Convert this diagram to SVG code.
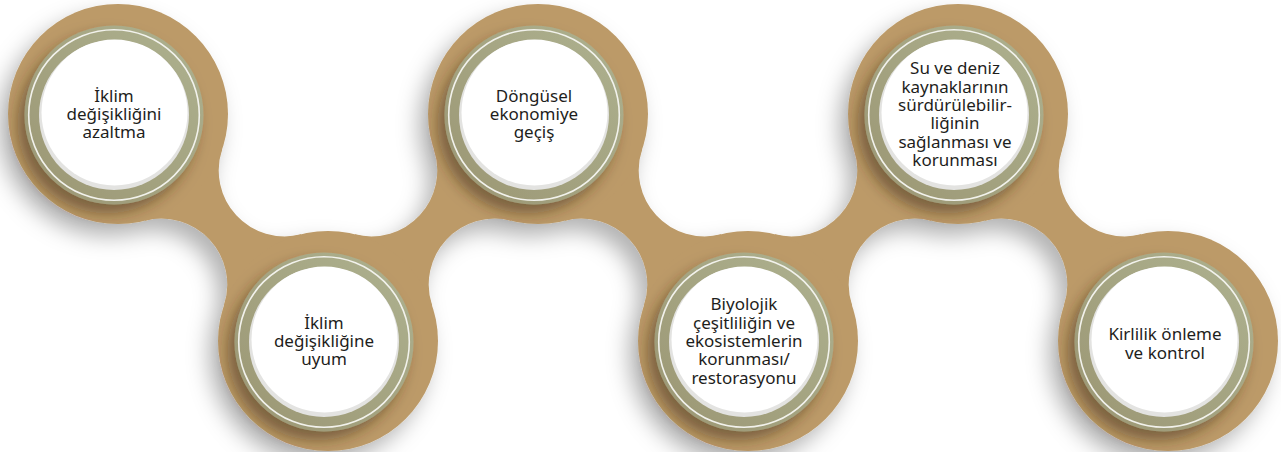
<svg xmlns="http://www.w3.org/2000/svg" width="1281" height="452" viewBox="0 0 1281 452">
<defs>
<style>
.tan{fill:#bc9a68}
.olive{fill:url(#og)}
.ring{fill:none;stroke:#f2f2ec;stroke-width:1.6}
.rim{fill:#e3e3e1}
.face{fill:#ffffff}
.lbl{font-family:"Noto Sans","Open Sans",sans-serif;font-size:17px;fill:#1e1e1c;text-anchor:middle}
</style>
<linearGradient id="og" x1="1" y1="0" x2="0" y2="1">
<stop offset="0" stop-color="#aeb290"/>
<stop offset="1" stop-color="#9b9673"/>
</linearGradient>
<filter id="bandShadow" filterUnits="userSpaceOnUse" x="-60" y="-60" width="1420" height="580">
<feDropShadow dx="-9" dy="12" stdDeviation="11" flood-color="#000" flood-opacity="0.3"/>
</filter>
<filter id="discShadow" x="-40%" y="-40%" width="180%" height="180%">
<feDropShadow dx="-7" dy="9" stdDeviation="7" flood-color="#3b2a12" flood-opacity="0.5"/>
</filter>
<path id="neckA" d="M118 114 L222.20 149.25 A66 66 0 0 0 300.95 234.37 L328 341 L223.80 305.75 A66 66 0 0 0 145.05 220.63 Z"/>
<path id="neckB" d="M538 114 L433.80 149.25 A66 66 0 0 1 355.05 234.37 L328 341 L432.20 305.75 A66 66 0 0 1 510.95 220.63 Z"/>
</defs>
<rect width="1281" height="452" fill="#ffffff"/>
<g id="band" class="tan" filter="url(#bandShadow)">
<g id="connectors">
<use href="#neckA"/>
<use href="#neckB"/>
<use href="#neckA" x="420"/>
<use href="#neckB" x="420"/>
<use href="#neckA" x="840"/>
</g>
<g id="node-bases">
<circle cx="118" cy="114" r="110"/>
<circle cx="328" cy="341" r="110"/>
<circle cx="538" cy="114" r="110"/>
<circle cx="748" cy="341" r="110"/>
<circle cx="958" cy="114" r="110"/>
<circle cx="1168" cy="341" r="110"/>
</g>
</g>
<g id="node1">
<circle class="olive" cx="114" cy="115" r="89.5" filter="url(#discShadow)"/>
<circle class="ring" cx="114" cy="115" r="85.3"/>
<circle class="rim" cx="114" cy="115" r="75"/>
<circle class="face" cx="114.5" cy="112.5" r="73"/>
<text class="lbl"><tspan x="114" y="101.7">İklim</tspan><tspan x="114" y="120">değişikliğini</tspan><tspan x="114" y="138.3">azaltma</tspan></text>
</g>
<g id="node2">
<circle class="olive" cx="324" cy="342" r="89.5" filter="url(#discShadow)"/>
<circle class="ring" cx="324" cy="342" r="85.3"/>
<circle class="rim" cx="324" cy="342" r="75"/>
<circle class="face" cx="324.5" cy="339.5" r="73"/>
<text class="lbl"><tspan x="324" y="328.7">İklim</tspan><tspan x="324" y="347">değişikliğine</tspan><tspan x="324" y="365.3">uyum</tspan></text>
</g>
<g id="node3">
<circle class="olive" cx="534" cy="115" r="89.5" filter="url(#discShadow)"/>
<circle class="ring" cx="534" cy="115" r="85.3"/>
<circle class="rim" cx="534" cy="115" r="75"/>
<circle class="face" cx="534.5" cy="112.5" r="73"/>
<text class="lbl"><tspan x="534" y="101.7">Döngüsel</tspan><tspan x="534" y="120">ekonomiye</tspan><tspan x="534" y="138.3">geçiş</tspan></text>
</g>
<g id="node4">
<circle class="olive" cx="744" cy="342" r="89.5" filter="url(#discShadow)"/>
<circle class="ring" cx="744" cy="342" r="85.3"/>
<circle class="rim" cx="744" cy="342" r="75"/>
<circle class="face" cx="744.5" cy="339.5" r="73"/>
<text class="lbl"><tspan x="744" y="310.4">Biyolojik</tspan><tspan x="744" y="328.7">çeşitliliğin ve</tspan><tspan x="744" y="347">ekosistemlerin</tspan><tspan x="744" y="365.3">korunması/</tspan><tspan x="744" y="383.6">restorasyonu</tspan></text>
</g>
<g id="node5">
<circle class="olive" cx="954" cy="115" r="89.5" filter="url(#discShadow)"/>
<circle class="ring" cx="954" cy="115" r="85.3"/>
<circle class="rim" cx="954" cy="115" r="75"/>
<circle class="face" cx="954.5" cy="112.5" r="73"/>
<text class="lbl"><tspan x="955" y="74.3">Su ve deniz</tspan><tspan x="955" y="92.6">kaynaklarının</tspan><tspan x="955" y="110.9">sürdürülebilir-</tspan><tspan x="955" y="129.2">liğinin</tspan><tspan x="955" y="147.5">sağlanması ve</tspan><tspan x="955" y="165.8">korunması</tspan></text>
</g>
<g id="node6">
<circle class="olive" cx="1164" cy="342" r="89.5" filter="url(#discShadow)"/>
<circle class="ring" cx="1164" cy="342" r="85.3"/>
<circle class="rim" cx="1164" cy="342" r="75"/>
<circle class="face" cx="1164.5" cy="339.5" r="73"/>
<text class="lbl"><tspan x="1165" y="340">Kirlilik önleme</tspan><tspan x="1165" y="358.5">ve kontrol</tspan></text>
</g>
</svg>
